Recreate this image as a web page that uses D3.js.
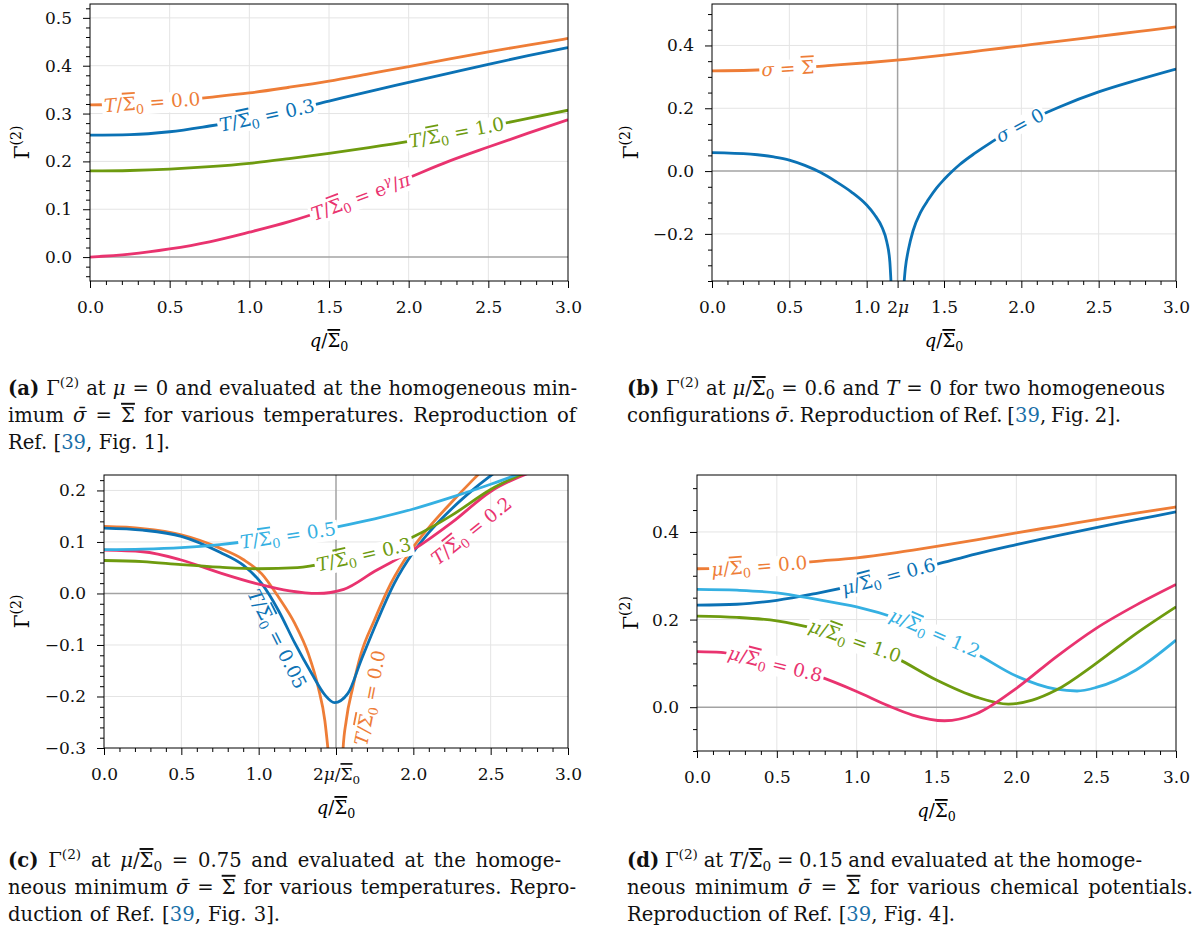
<!DOCTYPE html>
<html>
<head>
<meta charset="utf-8">
<script src="https://cdn.jsdelivr.net/npm/d3@7"></script>
<style>
body { margin: 0; background: #fff; }
svg text { font-family: "DejaVu Serif", serif; white-space: pre; }
</style>
</head>
<body>
<svg id="fig" width="1195" height="938"></svg>
<script>
const SB = "~\u03a3";        // Sigma with overline
const SG = "\u03c3\u0304";   // sigma bar

// ---- data ----
// (a) mu = 0, sigma = Sigma
const qA = [0, 0.25, 0.5, 0.75, 1, 1.25, 1.5, 1.75, 2, 2.25, 2.5, 2.75, 3];
const aT00 = [0.318, 0.320, 0.326, 0.334, 0.343, 0.355, 0.368, 0.383, 0.398, 0.414, 0.429, 0.443, 0.457];
const aT03 = [0.255, 0.256, 0.262, 0.274, 0.288, 0.306, 0.326, 0.346, 0.365, 0.384, 0.403, 0.421, 0.438];
const aT10 = [0.180, 0.181, 0.184, 0.189, 0.196, 0.206, 0.217, 0.229, 0.242, 0.257, 0.273, 0.290, 0.307];
const aTc  = [0.000, 0.006, 0.017, 0.032, 0.052, 0.074, 0.101, 0.132, 0.166, 0.200, 0.230, 0.259, 0.287];

// (b) mu = 0.6, T = 0
const bSig = [0.319, 0.321, 0.327, 0.336, 0.345, 0.356, 0.369, 0.384, 0.399, 0.414, 0.429, 0.444, 0.459];
const qB0L = [0, 0.25, 0.4, 0.5, 0.6, 0.7, 0.8, 0.9, 1.0, 1.05, 1.1, 1.13, 1.15, 1.158];
const bZeroL = [0.059, 0.054, 0.045, 0.035, 0.018, -0.004, -0.033, -0.066, -0.108, -0.138, -0.180, -0.225, -0.290, -0.360];
const qB0R = [1.241, 1.25, 1.27, 1.3, 1.35, 1.4, 1.45, 1.5, 1.555, 1.6, 1.7, 1.8, 1.9, 2.0, 2.25, 2.5, 2.75, 3.0];
const bZeroR = [-0.360, -0.310, -0.250, -0.190, -0.130, -0.090, -0.055, -0.027, 0.000, 0.020, 0.057, 0.090, 0.120, 0.148, 0.205, 0.252, 0.290, 0.325];

// (c) mu = 0.75
const qC0L = [0, 0.25, 0.5, 0.75, 0.9, 1.02, 1.128, 1.235, 1.321, 1.385, 1.428, 1.449, 1.46];
const cT00L = [0.130, 0.126, 0.114, 0.088, 0.066, 0.038, -0.007, -0.059, -0.117, -0.182, -0.247, -0.305, -0.34];
const qC0R = [1.54, 1.545, 1.566, 1.609, 1.662, 1.748, 1.854, 1.983, 2.1, 2.25, 2.39, 2.45];
const cT00R = [-0.34, -0.305, -0.247, -0.182, -0.117, -0.052, 0.019, 0.083, 0.128, 0.178, 0.222, 0.24];
const qC005 = [0, 0.25, 0.5, 0.75, 0.9, 1.02, 1.128, 1.235, 1.342, 1.428, 1.49, 1.577, 1.662, 1.769, 1.876, 2.0, 2.1, 2.25, 2.4, 2.55];
const cT005 = [0.127, 0.123, 0.111, 0.080, 0.055, 0.019, -0.033, -0.097, -0.155, -0.197, -0.212, -0.194, -0.130, -0.052, 0.019, 0.080, 0.118, 0.165, 0.205, 0.24];
const qC = [0, 0.25, 0.5, 0.75, 1.0, 1.25, 1.5, 1.75, 2.0, 2.25, 2.5, 2.75];
const cT05 = [0.085, 0.086, 0.089, 0.095, 0.104, 0.115, 0.129, 0.145, 0.164, 0.187, 0.212, 0.24];
const cT03 = [0.064, 0.062, 0.056, 0.051, 0.048, 0.050, 0.063, 0.080, 0.110, 0.152, 0.202, 0.238];
const qC02 = [0, 0.25, 0.5, 0.75, 1.0, 1.2, 1.38, 1.55, 1.75, 2.0, 2.25, 2.5, 2.8];
const cT02 = [0.084, 0.081, 0.065, 0.040, 0.018, 0.005, 0.000, 0.008, 0.043, 0.085, 0.138, 0.198, 0.24];

// (d) T = 0.15
const qD = [0, 0.25, 0.5, 0.75, 1, 1.25, 1.5, 1.75, 2, 2.25, 2.5, 2.75, 3];
const dM00 = [0.316, 0.318, 0.325, 0.333, 0.341, 0.353, 0.367, 0.382, 0.398, 0.413, 0.428, 0.443, 0.457];
const dM06 = [0.233, 0.235, 0.244, 0.260, 0.279, 0.303, 0.326, 0.350, 0.371, 0.391, 0.410, 0.428, 0.446];
const qD12 = [0, 0.25, 0.5, 0.75, 1, 1.25, 1.5, 1.75, 2, 2.25, 2.38, 2.5, 2.75, 3];
const dM12 = [0.269, 0.267, 0.261, 0.246, 0.229, 0.203, 0.167, 0.122, 0.071, 0.041, 0.037, 0.045, 0.085, 0.153];
const qD10 = [0, 0.25, 0.5, 0.75, 1, 1.25, 1.5, 1.75, 1.95, 2.1, 2.25, 2.5, 2.75, 3];
const dM10 = [0.208, 0.205, 0.197, 0.178, 0.150, 0.112, 0.062, 0.023, 0.007, 0.016, 0.039, 0.100, 0.168, 0.229];
const qD08 = [0, 0.15, 0.25, 0.5, 0.75, 1, 1.2, 1.35, 1.55, 1.75, 2, 2.25, 2.5, 2.75, 3];
const dM08 = [0.127, 0.125, 0.119, 0.097, 0.072, 0.036, 0.003, -0.018, -0.031, -0.015, 0.043, 0.115, 0.180, 0.233, 0.280];

const xMajor = [0, 0.5, 1, 1.5, 2, 2.5, 3];

const capA = [`!(a)! Γ^{(2)} at *μ* = 0 and evaluated at the homogeneous min-`,
              `imum *${SG}* = ${SB} for various temperatures. Reproduction of`,
              `Ref. [#39#, Fig. 1].`];
const capB = [`!(b)! Γ^{(2)} at *μ*/${SB}_0 = 0.6 and *T* = 0 for two homogeneous`,
              `configurations *${SG}*. Reproduction of Ref. [#39#, Fig. 2].`];
const capC = [`!(c)! Γ^{(2)} at *μ*/${SB}_0 = 0.75 and evaluated at the homoge-`,
              `neous minimum *${SG}* = ${SB} for various temperatures. Repro-`,
              `duction of Ref. [#39#, Fig. 3].`];
const capD = [`!(d)! Γ^{(2)} at *T*/${SB}_0 = 0.15 and evaluated at the homoge-`,
              `neous minimum *${SG}* = ${SB} for various chemical potentials.`,
              `Reproduction of Ref. [#39#, Fig. 4].`];

// ---- style ----
const COL = {orange: "#ee7d37", blue: "#0b72b5", green: "#6e9b0f", pink: "#e9336f", cyan: "#35b0e2"};
const LINK = "#1a6fa8";
const FS = 17;      // ticks
const LFS = 18.5;   // inline labels
const svg = d3.select("#fig");

// mini markup: *italic*  !bold!  #link#  _sub  ^{sup}  ~X overline
function parseRich(s) {
    const runs = [];
    const st = {it: false, b: false, link: false, sh: 0, ov: false};
    const push = ch => {
        const l = runs[runs.length - 1];
        if (!st.ov && l && !l.ov && l.it === st.it && l.b === st.b && l.link === st.link && l.sh === st.sh) l.t += ch;
        else runs.push({t: ch, it: st.it, b: st.b, link: st.link, sh: st.sh, ov: st.ov});
        st.ov = false;
    };
    let i = 0;
    while (i < s.length) {
        const c = s[i];
        if (c === "*") { st.it = !st.it; i++; }
        else if (c === "!") { st.b = !st.b; i++; }
        else if (c === "#") { st.link = !st.link; i++; }
        else if (c === "~") { st.ov = true; i++; }
        else if (c === "_" || c === "^") {
            i++;
            let grp;
            if (s[i] === "{") { const j = s.indexOf("}", i); grp = s.slice(i + 1, j); i = j + 1; }
            else { grp = s[i]; i++; }
            st.sh = c === "_" ? 1 : -1;
            for (const ch of grp) { if (ch === "*") st.it = !st.it; else push(ch); }
            st.sh = 0;
        } else { push(c); i++; }
    }
    return runs;
}

function rich(text, s) {
    let cur = 0;
    parseRich(s).forEach(r => {
        const off = r.sh === 1 ? 0.22 : r.sh === -1 ? -0.42 : 0;
        const ts = text.append("tspan").text(r.t);
        const d = (off - cur) / (r.sh ? 0.7 : 1);
        if (d !== 0) ts.attr("dy", d.toFixed(3) + "em");
        if (r.sh) ts.attr("font-size", "0.7em");
        if (r.it) ts.attr("font-style", "italic");
        if (r.b) ts.attr("font-weight", "bold");
        if (r.link) ts.attr("fill", LINK);
        if (r.ov) ts.style("text-decoration", "overline");
        cur = off;
    });
    return text;
}

function interp(q, v, t) {
    const i = d3.bisectLeft(q, t);
    if (i <= 0) return v[0];
    if (i >= q.length) return v[v.length - 1];
    const f = (t - q[i - 1]) / (q[i] - q[i - 1]);
    return v[i - 1] + f * (v[i] - v[i - 1]);
}

const panels = [
    {id: "a", left: 90, right: 568, top: 4, bottom: 281, yDom: [-0.05, 0.529],
     yMajor: [0, 0.1, 0.2, 0.3, 0.4, 0.5], yMinor: 0.02, xTicks: xMajor, mark: null, xLab: {}, yTitleX: 22,
     series: [
        {q: qA, v: aT00, c: COL.orange, lab: {text: `*T*/${SB}_0 = 0.0`, at: 0.39}},
        {q: qA, v: aT03, c: COL.blue, lab: {text: `*T*/${SB}_0 = 0.3`, at: 1.11}},
        {q: qA, v: aT10, c: COL.green, lab: {text: `*T*/${SB}_0 = 1.0`, at: 2.3}},
        {q: qA, v: aTc, c: COL.pink, lab: {text: `*T*/${SB}_0 = e^{*γ*}/*π*`, at: 1.7}}
     ]},
    {id: "b", left: 712, right: 1176, top: 4, bottom: 281, yDom: [-0.35, 0.532],
     yMajor: [-0.2, 0, 0.2, 0.4], yMinor: 0.05, xTicks: [0, 0.5, 1, 1.2, 1.5, 2, 2.5, 3], mark: 1.2,
     xLab: {1.2: "2*μ*"}, yTitleX: 631,
     series: [
        {q: qA, v: bSig, c: COL.orange, lab: {text: `*σ* = ${SB}`, at: 0.49}},
        {q: qB0L, v: bZeroL, c: COL.blue},
        {q: qB0R, v: bZeroR, c: COL.blue, lab: {text: `*σ* = 0`, at: 1.99}}
     ]},
    {id: "c", left: 104, right: 568, top: 475, bottom: 748, yDom: [-0.3, 0.23],
     yMajor: [-0.3, -0.2, -0.1, 0, 0.1, 0.2], yMinor: 0.02, xTicks: xMajor, mark: 1.5,
     xLab: {1.5: `2*μ*/${SB}_0`}, yTitleX: 22,
     series: [
        {q: qC0L, v: cT00L, c: COL.orange},
        {q: qC0R, v: cT00R, c: COL.orange, lab: {text: `*T*/${SB}_0 = 0.0`, at: 1.6, dn: 19, rot: -79, halo: false}},
        {q: qC005, v: cT005, c: COL.blue, lab: {text: `*T*/${SB}_0 = 0.05`, at: 1.2, dn: 14, halo: false}},
        {q: qC02, v: cT02, c: COL.pink, lab: {text: `*T*/${SB}_0 = 0.2`, at: 2.3, dn: 19, halo: false}},
        {q: qC, v: cT03, c: COL.green, lab: {text: `*T*/${SB}_0 = 0.3`, at: 1.68}},
        {q: qC, v: cT05, c: COL.cyan, lab: {text: `*T*/${SB}_0 = 0.5`, at: 1.19}}
     ]},
    {id: "d", left: 697, right: 1176, top: 475, bottom: 751, yDom: [-0.1, 0.53],
     yMajor: [0, 0.2, 0.4], yMinor: 0.05, xTicks: xMajor, mark: null, xLab: {}, yTitleX: 631,
     series: [
        {q: qD, v: dM00, c: COL.orange, lab: {text: `*μ*/${SB}_0 = 0.0`, at: 0.39}},
        {q: qD, v: dM06, c: COL.blue, lab: {text: `*μ*/${SB}_0 = 0.6`, at: 1.2}},
        {q: qD12, v: dM12, c: COL.cyan, lab: {text: `*μ*/${SB}_0 = 1.2`, at: 1.49}},
        {q: qD10, v: dM10, c: COL.green, lab: {text: `*μ*/${SB}_0 = 1.0`, at: 0.99}},
        {q: qD08, v: dM08, c: COL.pink, lab: {text: `*μ*/${SB}_0 = 0.8`, at: 0.49}}
     ]}
];

function minorTicks(lo, hi, step, majors) {
    return d3.range(Math.ceil(lo / step - 1e-9), Math.floor(hi / step + 1e-9) + 1)
        .map(i => +(i * step).toFixed(4))
        .filter(v => !majors.some(m => Math.abs(m - v) < 1e-6));
}

function placeLabel(g, x, y, s) {
    const L = s.lab;
    const f = t => y(interp(s.q, s.v, t));
    const px = x(L.at), py = f(L.at);
    const ang = L.rot != null ? L.rot :
        Math.atan2(f(L.at + 0.04) - f(L.at - 0.04), x(L.at + 0.04) - x(L.at - 0.04)) * 180 / Math.PI;
    const r = ang * Math.PI / 180, dn = L.dn || 0;
    const lg = g.append("g")
        .attr("transform", `translate(${px - Math.sin(r) * dn},${py + Math.cos(r) * dn}) rotate(${ang})`);
    const t = lg.append("text").attr("text-anchor", "middle").attr("y", LFS * 0.34)
        .attr("font-size", LFS).attr("fill", s.c);
    rich(t, L.text);
    if (L.halo !== false) {
        const b = t.node().getBBox();
        lg.insert("rect", "text").attr("x", b.x - 2).attr("y", b.y + 2)
            .attr("width", b.width + 4).attr("height", b.height - 4).attr("fill", "#fff");
    }
}

function drawPanel(p) {
    const x = d3.scaleLinear().domain([0, 3]).range([p.left, p.right]);
    const y = d3.scaleLinear().domain(p.yDom).range([p.bottom, p.top]);
    const g = svg.append("g");

    g.append("g").selectAll("line").data(p.yMajor.filter(v => v !== 0 && y(v) > p.top + 1 && y(v) < p.bottom - 1))
        .join("line").attr("x1", p.left).attr("x2", p.right).attr("y1", d => y(d)).attr("y2", d => y(d))
        .attr("stroke", "#e4e4e4").attr("stroke-width", 1);
    g.append("g").selectAll("line").data(xMajor.filter(v => v > 0 && v < 3 && v !== p.mark))
        .join("line").attr("y1", p.top).attr("y2", p.bottom).attr("x1", d => x(d)).attr("x2", d => x(d))
        .attr("stroke", "#e4e4e4").attr("stroke-width", 1);
    g.append("line").attr("x1", p.left).attr("x2", p.right).attr("y1", y(0)).attr("y2", y(0))
        .attr("stroke", "#a3a3a3").attr("stroke-width", 1.5);
    if (p.mark != null)
        g.append("line").attr("y1", p.top).attr("y2", p.bottom).attr("x1", x(p.mark)).attr("x2", x(p.mark))
            .attr("stroke", "#a3a3a3").attr("stroke-width", 1.5);

    const cid = "clip-" + p.id;
    svg.append("clipPath").attr("id", cid).append("rect")
        .attr("x", p.left).attr("y", p.top).attr("width", p.right - p.left).attr("height", p.bottom - p.top);
    const lines = g.append("g").attr("clip-path", `url(#${cid})`);
    const line = d3.line().x(d => x(d[0])).y(d => y(d[1])).curve(d3.curveMonotoneX);
    p.series.forEach(s => {
        lines.append("path").datum(d3.zip(s.q, s.v)).attr("d", line)
            .attr("fill", "none").attr("stroke", s.c).attr("stroke-width", 2.8);
    });
    const labs = g.append("g").attr("clip-path", `url(#${cid})`);
    p.series.filter(s => s.lab).forEach(s => placeLabel(labs, x, y, s));

    g.append("rect").attr("x", p.left).attr("y", p.top).attr("width", p.right - p.left)
        .attr("height", p.bottom - p.top).attr("fill", "none").attr("stroke", "#000").attr("stroke-width", 1);

    const fmt = d3.format(".1f");
    const gx = g.append("g").attr("transform", `translate(0,${p.bottom})`)
        .call(d3.axisBottom(x).tickValues(p.xTicks).tickSize(7).tickPadding(13).tickFormat(fmt));
    g.append("g").attr("transform", `translate(0,${p.bottom})`)
        .call(d3.axisBottom(x).tickValues(minorTicks(0, 3, 0.1, p.xTicks)).tickSize(4).tickFormat(""));
    g.append("g").attr("transform", `translate(${p.left},0)`)
        .call(d3.axisLeft(y).tickValues(p.yMajor).tickSize(7).tickPadding(11).tickFormat(fmt));
    g.append("g").attr("transform", `translate(${p.left},0)`)
        .call(d3.axisLeft(y).tickValues(minorTicks(p.yDom[0], p.yDom[1], p.yMinor, p.yMajor)).tickSize(4).tickFormat(""));
    g.selectAll(".domain").remove();
    g.selectAll(".tick text").attr("font-family", "DejaVu Serif").attr("font-size", FS).attr("fill", "#111");
    gx.selectAll(".tick text").each(function(d) {
        const lab = p.xLab[d];
        if (lab) rich(d3.select(this).text(""), lab);
    });

    rich(g.append("text").attr("x", (p.left + p.right) / 2).attr("y", p.bottom + 66)
        .attr("text-anchor", "middle").attr("font-size", 18), `*q*/${SB}_0`);
    rich(g.append("text").attr("transform", `translate(${p.yTitleX},${(p.top + p.bottom) / 2}) rotate(-90)`)
        .attr("text-anchor", "middle").attr("dy", "0.36em").attr("font-size", 20), "Γ^{(2)}");
}

panels.forEach(drawPanel);

// ---- captions: font sized from the last (unjustified) lines, then each line fitted ----
const captions = [
    {lines: capA, x: 8, y: 395, w: [569, 568, 162]},
    {lines: capB, x: 627, y: 395, w: [538, 494]},
    {lines: capC, x: 8, y: 867, w: [553, 568, 272]},
    {lines: capD, x: 627, y: 867, w: [515, 566, 328]}
];
const probe = captions.map(cp => {
    const t = rich(svg.append("text").attr("font-size", 18), cp.lines[cp.lines.length - 1]);
    const r = cp.w[cp.w.length - 1] / t.node().getComputedTextLength();
    t.remove();
    return r;
});
const CFS = 18 * d3.mean(probe);
captions.forEach(cp => {
    cp.lines.forEach((s, i) => {
        const t = svg.append("text").attr("x", cp.x).attr("y", cp.y + i * 26.8)
            .attr("font-size", CFS).attr("fill", "#111");
        rich(t, s);
        const w = t.node().getComputedTextLength();
        const n = (t.text().match(/ /g) || []).length;
        if (n) t.attr("word-spacing", ((cp.w[i] - w) / n).toFixed(2));
    });
});
</script>
</body>
</html>
